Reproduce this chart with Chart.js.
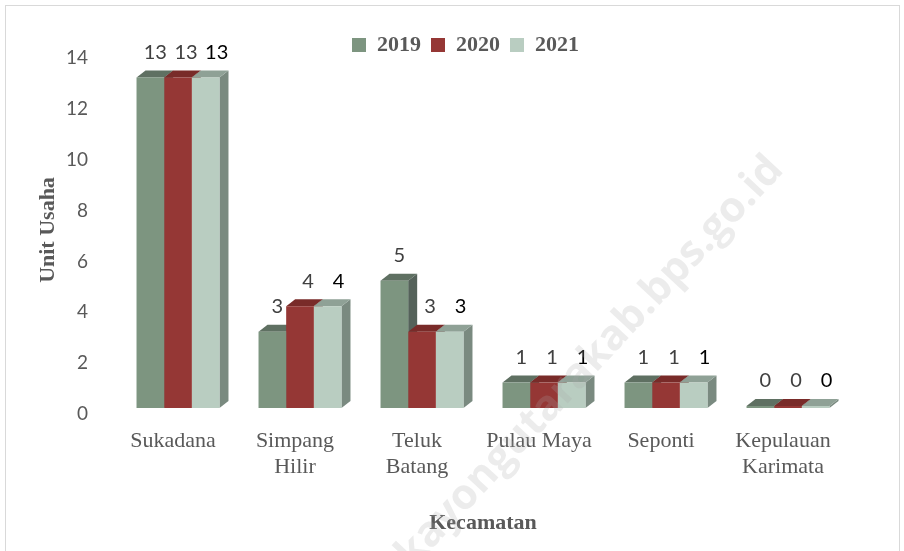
<!DOCTYPE html>
<html>
<head>
<meta charset="utf-8">
<script src="https://cdn.jsdelivr.net/npm/chart.js@4.4.1/dist/chart.umd.min.js"></script>
<style>
  html, body { margin: 0; padding: 0; background: #fff; }
  #wrap { position: relative; width: 904px; height: 551px; overflow: hidden; }
  #frame { position: absolute; left: 5px; top: 5px; width: 893px; height: 580px; border: 1px solid #d9d9d9; }
  canvas { position: absolute; left: 0; top: 0; }
</style>
</head>
<body>
<div id="wrap">
  <div id="frame"></div>
  <canvas id="unitChart" width="904" height="551"></canvas>
</div>
<script>
// data
const categories = [["Sukadana"], ["Simpang", "Hilir"], ["Teluk", "Batang"], ["Pulau Maya"], ["Seponti"], ["Kepulauan", "Karimata"]];
const years = ["2019", "2020", "2021"];
const units2019 = [13, 3, 5, 1, 1, 0];
const units2020 = [13, 4, 3, 1, 1, 0];
const units2021 = [13, 4, 3, 1, 1, 0];
const yTicks = [0, 2, 4, 6, 8, 10, 12, 14];

const serif = "'Liberation Serif', 'DejaVu Serif', serif";
const sans = "Lato, 'Open Sans', sans-serif";
const grey = "#595959";
const DX = 9, DY = 7;

// fake 3d: side and top faces drawn before the fronts
const bar3d = {
  id: "bar3d",
  afterLayout(chart) {
    // legend sits a bit right of the full-width centre
    chart.legend.left += 31;
    chart.legend.right += 31;
  },
  beforeDatasetsDraw(chart) {
    const ctx = chart.ctx;
    ctx.save();
    for (let c = 0; c < chart.data.labels.length; c++) {
      chart.data.datasets.forEach((ds, i) => {
        const bar = chart.getDatasetMeta(i).data[c];
        const l = bar.x - bar.width / 2, r = bar.x + bar.width / 2;
        const top = Math.min(bar.y, bar.base), bottom = bar.base;
        ctx.fillStyle = ds.sideColor;
        ctx.beginPath();
        ctx.moveTo(r, top);
        ctx.lineTo(r + DX, top - DY);
        ctx.lineTo(r + DX, bottom - DY);
        ctx.lineTo(r, bottom);
        ctx.closePath();
        ctx.fill();
        ctx.fillStyle = ds.topColor;
        ctx.beginPath();
        ctx.moveTo(l, top);
        ctx.lineTo(l + DX, top - DY);
        ctx.lineTo(r + DX, top - DY);
        ctx.lineTo(r, top);
        ctx.closePath();
        ctx.fill();
      });
    }
    ctx.restore();
  },
  afterDatasetsDraw(chart) {
    const ctx = chart.ctx;
    ctx.save();
    ctx.font = "20px " + sans;
    ctx.textAlign = "center";
    ctx.textBaseline = "middle";
    chart.data.datasets.forEach((ds, i) => {
      chart.getDatasetMeta(i).data.forEach((bar, j) => {
        ctx.fillStyle = ds.valueColor;
        ctx.fillText(String(ds.data[j]), bar.x + 5 + 3 * i, bar.y - 25);
      });
    });
    ctx.restore();
  },
  afterDraw(chart) {
    // faint site watermark
    const ctx = chart.ctx;
    ctx.save();
    ctx.translate(590, 362);
    ctx.rotate(-0.82);
    ctx.font = "bold 42px 'Open Sans', sans-serif";
    ctx.fillStyle = "rgba(170,170,170,0.22)";
    ctx.textAlign = "center";
    ctx.textBaseline = "middle";
    ctx.fillText("kayongutarakab.bps.go.id", 0, 0);
    ctx.restore();
  }
};

const ctx = document.getElementById("unitChart").getContext("2d");
const unitChart = new Chart(ctx, {
  type: "bar",
  data: {
    labels: categories,
    datasets: [
      {
        label: years[0],
        data: units2019,
        backgroundColor: "#7d9580",
        topColor: "#5f7062",
        sideColor: "#55625a",
        valueColor: "#404040",
      },
      {
        label: years[1],
        data: units2020,
        backgroundColor: "#953735",
        topColor: "#792b29",
        sideColor: "#6b2624",
        valueColor: "#404040",
      },
      {
        label: years[2],
        data: units2021,
        backgroundColor: "#b9cdc1",
        topColor: "#8fa196",
        sideColor: "#7a8a80",
        valueColor: "#000000",
      },
    ],
  },
  options: {
    responsive: false,
    animation: false,
    layout: { padding: { top: 24, left: 20, right: 55, bottom: 10 } },
    datasets: {
      bar: { categoryPercentage: 0.68, barPercentage: 1, minBarLength: 2 },
    },
    plugins: {
      tooltip: { enabled: false },
      legend: {
        position: "top",
        maxHeight: 28,
        labels: {
          color: grey,
          font: { family: serif, size: 22, weight: "bold" },
          boxWidth: 14,
          boxHeight: 14,
          padding: 10,
        },
      },
    },
    scales: {
      x: {
        grid: { display: false, drawTicks: false },
        border: { display: false },
        ticks: {
          color: grey,
          font: { family: serif, size: 22, lineHeight: 1.2 },
          padding: 20,
          labelOffset: -5,
          maxRotation: 0,
          autoSkip: false,
        },
        title: {
          display: true,
          text: "Kecamatan",
          color: grey,
          font: { family: serif, size: 22, weight: "bold" },
          padding: { top: 0, bottom: 4 },
        },
        afterFit(scale) { scale.height = 133; },
      },
      y: {
        min: 0,
        max: 14,
        grid: { display: false, drawTicks: false },
        border: { display: false },
        afterBuildTicks(scale) { scale.ticks = yTicks.map(v => ({ value: v })); },
        ticks: {
          color: grey,
          font: { family: sans, size: 19 },
          padding: 29,
          labelOffset: 6,
        },
        title: {
          display: true,
          text: "Unit Usaha",
          color: grey,
          font: { family: serif, size: 22, weight: "bold" },
          padding: { top: 15, bottom: 0 },
        },
        afterFit(scale) { scale.width = 97; },
      },
    },
  },
  plugins: [bar3d],
});
</script>
</body>
</html>
